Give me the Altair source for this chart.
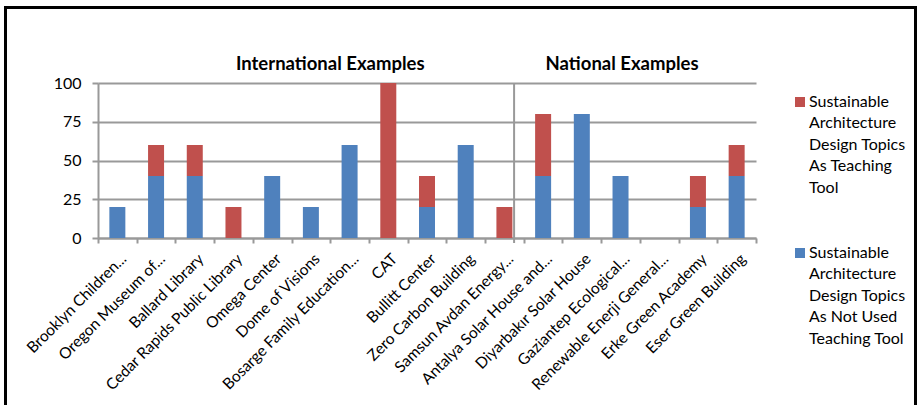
import altair as alt
import pandas as pd

categories = [
    "Brooklyn Children...", "Oregon Museum of...", "Ballard Library",
    "Cedar Rapids Public Library", "Omega Center", "Dome of Visions",
    "Bosarge Family Education...", "CAT", "Bullitt Center",
    "Zero Carbon Building", "Samsun Avdan Energy...",
    "Antalya Solar House and...", "Diyarbakır Solar House",
    "Gaziantep Ecological...", "Renewable Enerji General...",
    "Erke Green Academy", "Eser Green Building",
]
not_used_values = [20, 40, 40, 0, 40, 20, 60, 0, 20, 60, 0, 40, 80, 40, 0, 20, 40]
teaching_values = [0, 20, 20, 20, 0, 0, 0, 100, 20, 0, 20, 40, 0, 0, 0, 20, 20]
series = [
    "Sustainable Architecture Design Topics As Teaching Tool",
    "Sustainable Architecture Design Topics As Not Used Teaching Tool",
]
legend_labels = [
    "Sustainable\nArchitecture\nDesign Topics\nAs Teaching\nTool",
    "Sustainable\nArchitecture\nDesign Topics\nAs Not Used\nTeaching Tool",
]
colors = ["#C0504D", "#4F81BD"]
group_titles = ["International Examples", "National Examples"]

FONT = "Lato"

rows = []
for c, nu, t in zip(categories, not_used_values, teaching_values):
    rows.append({"cat": c, "series": series[1], "value": nu, "order": 0})
    rows.append({"cat": c, "series": series[0], "value": t, "order": 1})
df = pd.DataFrame(rows)

xscale = alt.Scale(domain=categories, paddingInner=0, paddingOuter=0)
cscale = alt.Scale(domain=series, range=colors)

bars = alt.Chart(df).mark_bar(size=16).encode(
    x=alt.X("cat:N", sort=categories, scale=xscale,
            axis=alt.Axis(title=None, tickBand="extent", labelAngle=-45,
                          labelAlign="right", labelBaseline="top",
                          labelFont=FONT, labelFontSize=15.5, labelColor="black",
                          labelLimit=400, labelPadding=8, labelOffset=1,
                          domainColor="#999999", domainWidth=2,
                          tickColor="#999999", tickWidth=2, tickSize=5,
                          grid=False)),
    y=alt.Y("value:Q", stack="zero", scale=alt.Scale(domain=[0, 100], nice=False),
            axis=alt.Axis(title=None, values=[0, 25, 50, 75, 100], grid=True,
                          gridColor="#999999", gridWidth=2,
                          domainColor="#999999", domainWidth=2,
                          tickColor="#999999", tickWidth=2, tickSize=6,
                          labelFont=FONT, labelFontSize=16, labelColor="black",
                          labelPadding=11)),
    color=alt.Color("series:N", scale=cscale, legend=None),
    order=alt.Order("order:Q", sort="ascending"),
)

sep_df = pd.DataFrame({"cat": [categories[10]]})
separator = alt.Chart(sep_df).mark_rule(color="#999999", strokeWidth=2).encode(
    x=alt.X("cat:N", sort=categories, scale=xscale, bandPosition=0.75),
    y=alt.value(0),
    y2=alt.value(160),
)

t1 = alt.Chart(pd.DataFrame({"cat": [categories[6]], "t": [group_titles[0]]})).mark_text(
    font=FONT, fontSize=18.5, fontWeight="bold", color="black", baseline="middle"
).encode(
    x=alt.X("cat:N", sort=categories, scale=xscale, bandPosition=0.0),
    y=alt.value(-19),
    text="t:N",
)
t2 = alt.Chart(pd.DataFrame({"cat": [categories[13]], "t": [group_titles[1]]})).mark_text(
    font=FONT, fontSize=18.5, fontWeight="bold", color="black", baseline="middle"
).encode(
    x=alt.X("cat:N", sort=categories, scale=xscale, bandPosition=0.54),
    y=alt.value(-19),
    text="t:N",
)

leg_df = pd.DataFrame({"series": series, "label": legend_labels})
lyscale = alt.Scale(domain=series, range=[19, 170], padding=0)
leg_sym = alt.Chart(leg_df).mark_square(size=100, opacity=1).encode(
    x=alt.value(702),
    y=alt.Y("series:N", scale=lyscale, axis=None),
    color=alt.Color("series:N", scale=cscale, legend=None),
)
leg_txt = alt.Chart(leg_df).mark_text(
    font=FONT, fontSize=16, color="black", align="left", baseline="top",
    lineBreak="\n", lineHeight=21.4, dy=-8,
).encode(
    x=alt.value(711),
    y=alt.Y("series:N", scale=lyscale, axis=None),
    text="label:N",
)

border = alt.Chart(pd.DataFrame({"k": [0]})).mark_rect(
    filled=False, stroke="black", strokeWidth=3
).encode(
    x=alt.value(-92.5), x2=alt.value(817.5),
    y=alt.value(-75.5), y2=alt.value(340),
)

chart = alt.layer(bars, separator, t1, t2, leg_sym, leg_txt, border).resolve_scale(
    y="independent"
).properties(
    width=658, height=155,
    autosize=alt.AutoSizeParams(type="none"),
    padding={"left": 98, "top": 83, "right": 163, "bottom": 167},
).configure_view(stroke=None)

chart.save("out.html", embed_options={"renderer": "svg", "actions": False})
